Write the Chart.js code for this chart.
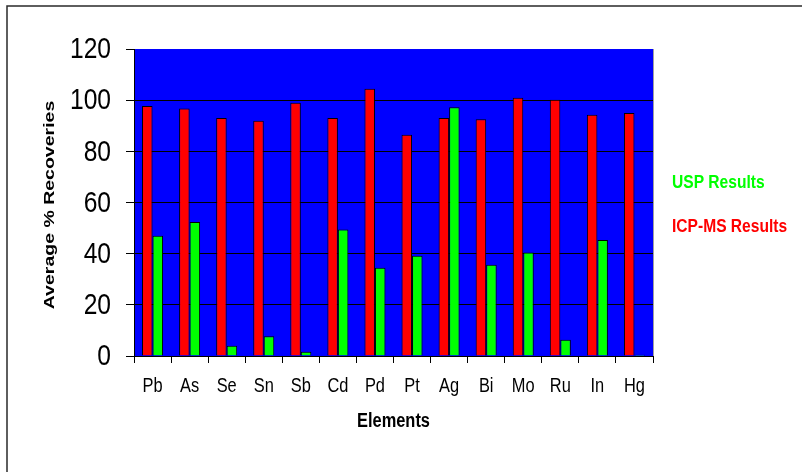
<!DOCTYPE html>
<html>
<head>
<meta charset="utf-8">
<script src="https://cdn.jsdelivr.net/npm/chart.js@4/dist/chart.umd.min.js"></script>
<style>
  html, body { margin: 0; padding: 0; background: #ffffff; }
  #wrap { width: 802px; height: 472px; position: relative; }
</style>
</head>
<body>
<div id="wrap"><canvas id="chart" width="802" height="472"></canvas></div>
<script>
// Element recoveries: ICP-MS vs USP colour test
const elements = ['Pb', 'As', 'Se', 'Sn', 'Sb', 'Cd', 'Pd', 'Pt', 'Ag', 'Bi', 'Mo', 'Ru', 'In', 'Hg'];
const icpmsRecovery = [97.7, 96.7, 93.0, 92.0, 99.0, 93.0, 104.5, 86.5, 93.0, 92.5, 100.9, 100.2, 94.3, 95.0];
const uspRecovery = [47.0, 52.4, 4.0, 7.7, 1.7, 49.4, 34.5, 39.2, 97.2, 35.7, 40.5, 6.4, 45.3, 0.5];
const yTicks = [0, 20, 40, 60, 80, 100, 120];

const SANS = '"Liberation Sans", Arial, sans-serif';
const NARROW_X = 0.82; // horizontal squeeze giving a narrow sans face

// Draw text squeezed horizontally around its anchor point
function narrowText(ctx, text, x, y, font, color, align, baseline) {
  ctx.save();
  ctx.font = font;
  ctx.fillStyle = color;
  ctx.textAlign = align;
  ctx.textBaseline = baseline || 'middle';
  ctx.translate(x, y);
  ctx.scale(NARROW_X, 1);
  ctx.fillText(text, 0, 0);
  ctx.restore();
}

// Plot background, outer frame, right edge of plot
const backdrop = {
  id: 'backdrop',
  beforeDraw(chart) {
    const { ctx, chartArea: a } = chart;
    ctx.save();
    ctx.fillStyle = '#0000ff';
    ctx.fillRect(a.left, a.top, a.right - a.left, a.bottom - a.top);
    ctx.strokeStyle = '#2a2a2a';
    ctx.lineWidth = 1.5;
    ctx.strokeRect(7, 6, 1000, 1000);
    ctx.restore();
  },
  afterDatasetsDraw(chart) {
    const { ctx, chartArea: a } = chart;
    ctx.save();
    ctx.strokeStyle = '#a0a0a0';
    ctx.lineWidth = 1;
    ctx.beginPath();
    ctx.moveTo(a.right + 0.5, a.top);
    ctx.lineTo(a.right + 0.5, a.bottom);
    ctx.stroke();
    ctx.restore();
  }
};

// Axis labels and titles in a narrow face, placed from the chart's own scales
const axisText = {
  id: 'axisText',
  afterDraw(chart) {
    const { ctx, scales: { x, y }, chartArea: a } = chart;
    // y tick labels
    y.ticks.forEach(t => {
      narrowText(ctx, String(t.value), a.left - 23, y.getPixelForValue(t.value) + 1,
        '30px ' + SANS, '#000000', 'right', 'middle');
    });
    // x tick labels
    elements.forEach((name, i) => {
      narrowText(ctx, name, x.getPixelForValue(i), 386,
        '20px ' + SANS, '#000000', 'center', 'middle');
    });
    // x title
    narrowText(ctx, 'Elements', (a.left + a.right) / 2, 421,
      'bold 20px ' + SANS, '#000000', 'center', 'middle');
    // y title, rotated and stretched along its length
    ctx.save();
    ctx.translate(50, 205);
    ctx.rotate(-Math.PI / 2);
    ctx.scale(1.3, 1);
    ctx.font = 'bold 15px ' + SANS;
    ctx.fillStyle = '#000000';
    ctx.textAlign = 'center';
    ctx.textBaseline = 'middle';
    ctx.fillText('Average % Recoveries', 0, 0);
    ctx.restore();
  }
};

// Text-only legend to the right of the plot
const textLegend = {
  id: 'textLegend',
  afterDraw(chart) {
    const { ctx } = chart;
    const order = [1, 0];
    const ys = [183, 227];
    order.forEach((di, i) => {
      const ds = chart.data.datasets[di];
      narrowText(ctx, ds.label, 672, ys[i], 'bold 19px ' + SANS, ds.backgroundColor, 'left', 'middle');
    });
  }
};

new Chart(document.getElementById('chart'), {
  type: 'bar',
  data: {
    labels: elements,
    datasets: [
      {
        label: 'ICP-MS Results',
        data: icpmsRecovery,
        backgroundColor: '#ff0000',
        borderColor: '#000000',
        borderWidth: 1
      },
      {
        label: 'USP Results',
        data: uspRecovery,
        backgroundColor: '#00ff00',
        borderColor: '#000000',
        borderWidth: 1
      }
    ]
  },
  options: {
    responsive: false,
    animation: false,
    maintainAspectRatio: false,
    datasets: { bar: { categoryPercentage: 0.567, barPercentage: 1.0 } },
    layout: { padding: { left: 0, right: 149, top: 49, bottom: 0 } },
    plugins: {
      legend: { display: false },
      tooltip: { enabled: false }
    },
    scales: {
      x: {
        offset: true,
        grid: {
          offset: true,
          drawOnChartArea: false,
          drawTicks: true,
          tickLength: 7,
          tickColor: '#000000'
        },
        border: { display: true, color: '#000000', width: 1 },
        ticks: { display: false },
        afterFit(scale) { scale.height = 116; }
      },
      y: {
        min: 0,
        max: 120,
        afterBuildTicks(scale) { scale.ticks = yTicks.map(v => ({ value: v })); },
        grid: {
          color: ctx => (ctx.tick && ctx.tick.value === 120) ? 'rgba(0,0,0,0)' : '#000000',
          lineWidth: 1,
          drawTicks: true,
          tickLength: 8,
          tickColor: '#000000'
        },
        border: { display: true, color: '#000000', width: 1 },
        ticks: { display: false },
        afterFit(scale) { scale.width = 134; }
      }
    }
  },
  plugins: [backdrop, axisText, textLegend]
});
</script>
</body>
</html>
